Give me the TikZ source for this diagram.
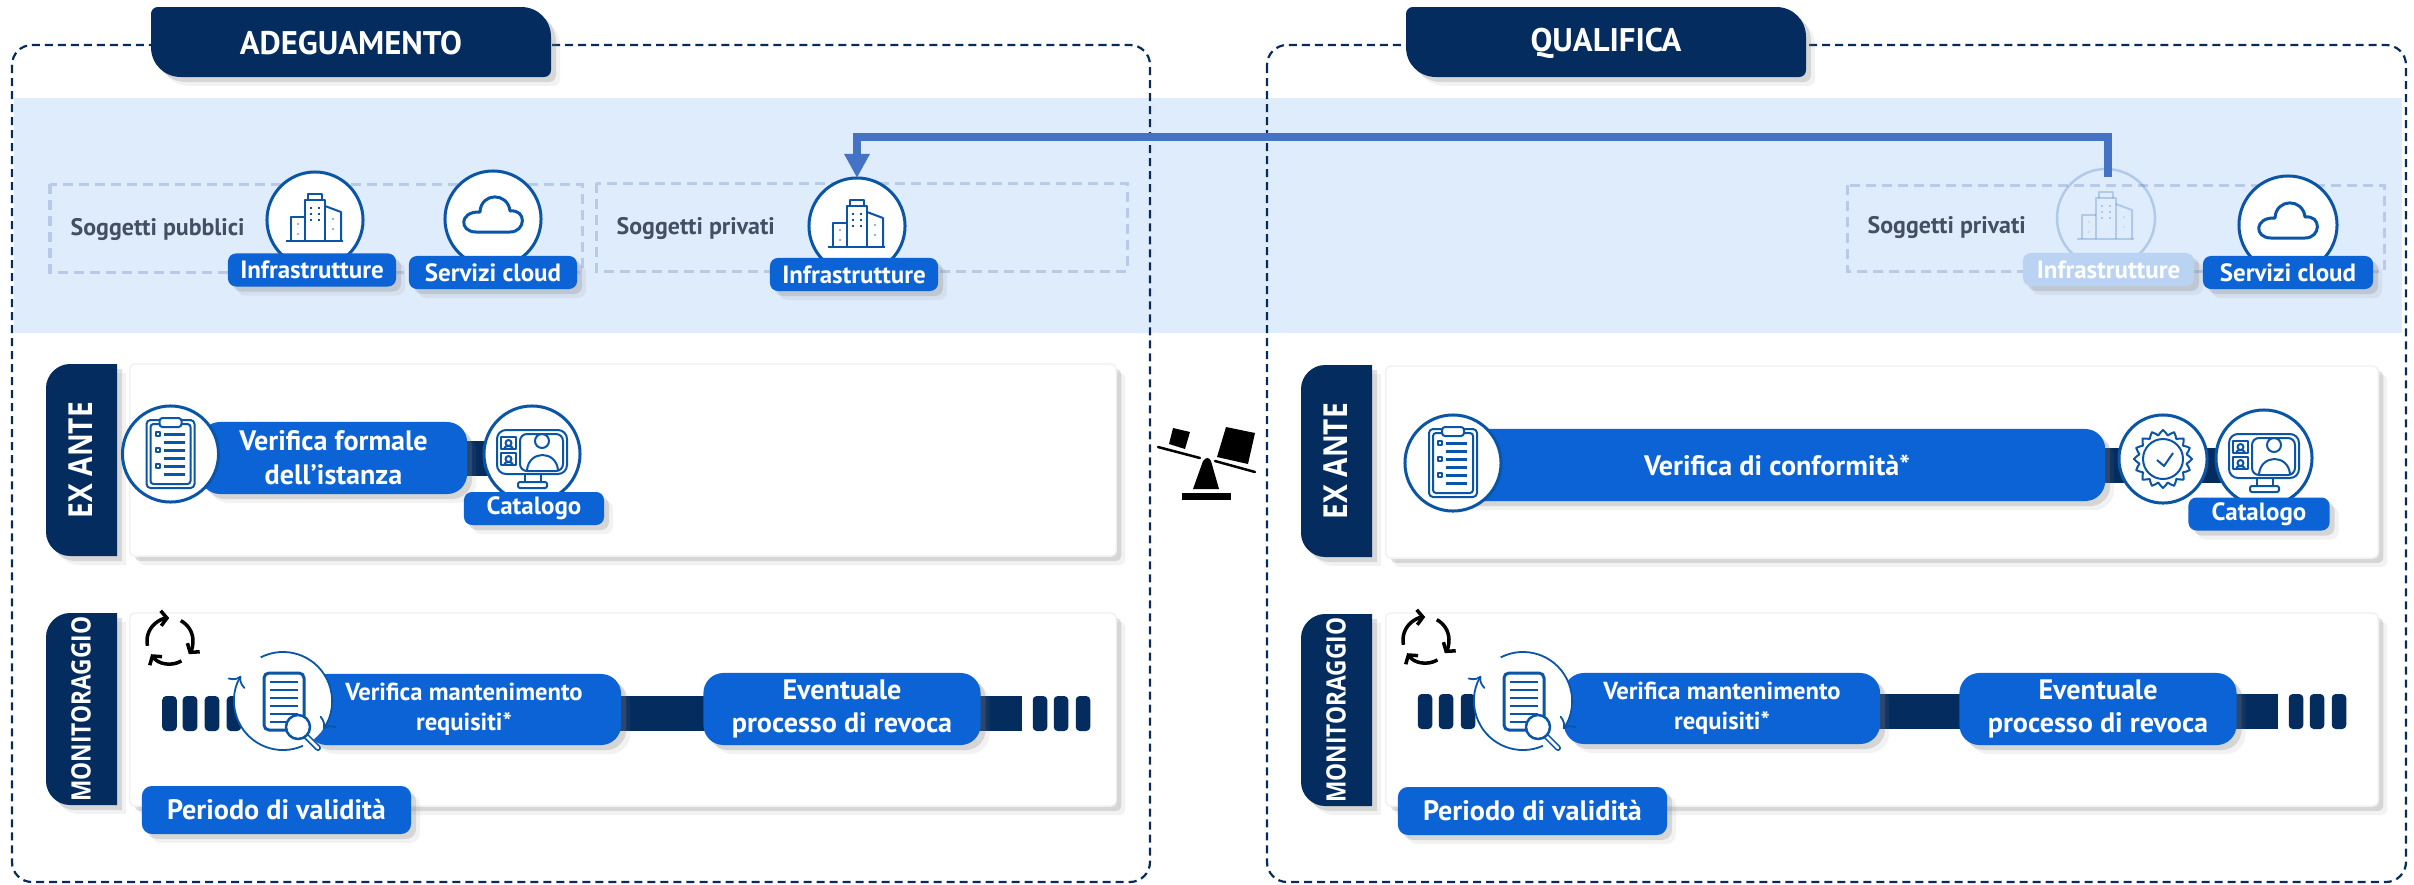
\documentclass[tikz,border=0pt]{standalone}
\usepackage{fontspec}
\setmainfont{PT Sans}
\newfontfamily\sidefont{Open Sans}[FakeStretch=.85]
\usetikzlibrary{arrows.meta,backgrounds,shadows}

\definecolor{navy}{HTML}{052C5F}
\definecolor{mainblue}{HTML}{0B63D5}
\definecolor{bandblue}{HTML}{DFECFC}
\definecolor{dashblue}{HTML}{B8CAE8}
\definecolor{iconblue}{HTML}{0A55A6}
\definecolor{linkblue}{HTML}{4472C4}
\definecolor{softgray}{HTML}{454F63}

\tikzset{
  softshadow/.style={drop shadow={shadow xshift=.9mm,shadow yshift=-.9mm,opacity=.1},
    drop shadow={shadow xshift=.5mm,shadow yshift=-.5mm,opacity=.25}},
  panel/.style={draw=navy,line width=.22mm,dash pattern=on .8mm off .5mm,rounded corners=2mm},
  groupbox/.style={draw=dashblue,line width=.3mm,dash pattern=on 1mm off .6mm},
  card/.style={draw=black!6,fill=white,rounded corners=.5mm,inner sep=0,outer sep=0,softshadow},
  tag/.style={fill=mainblue,text=white,rounded corners=.8mm,inner sep=0,outer sep=0,minimum height=.33cm,
    font=\fontsize{7.1}{8}\selectfont\bfseries,softshadow},
  pill/.style={fill=mainblue,text=white,rounded corners=2mm,inner sep=0,outer sep=0,align=center,
    font=\fontsize{8}{9.6}\selectfont\bfseries,softshadow},
  iconcircle/.style={circle,draw=iconblue,fill=white,line width=.3mm,inner sep=0,outer sep=0,minimum size=.96cm},
  iconline/.style={draw=iconblue,line width=.2mm,line join=round},
  navybar/.style={draw=navy,line width=.35cm},
  tick/.style={fill=navy,rounded corners=.4mm,inner sep=0,outer sep=0,minimum width=.145cm,minimum height=.35cm},
  grouplabel/.style={text=softgray,font=\fontsize{6.8}{8}\selectfont\bfseries,inner sep=0},
  sidelabel/.style={text=white,rotate=90,font=\sidefont\fontsize{9.4}{10}\selectfont\bfseries,inner sep=0},
  sidelabelsmall/.style={sidelabel,font=\sidefont\fontsize{7.6}{10}\selectfont\bfseries},
  titlelabel/.style={text=white,font=\fontsize{9.3}{10}\selectfont\bfseries,inner sep=0},
  linkarrow/.style={draw=linkblue,line width=.85mm,-{Triangle[width=2.4mm,length=2.4mm]}},
  % title tab, big corners top right and bottom left
  pics/titletab/.style={code={
    \fill[navy,softshadow] (7,0) -- (370,0) .. controls (387,0) and (400,13) .. (400,30) -- (400,63)
      .. controls (400,67) and (397,70) .. (393,70) -- (30,70) .. controls (13,70) and (0,57) .. (0,40)
      -- (0,7) .. controls (0,3) and (3,0) .. (7,0) -- cycle;}},
  % side tab, round on the left only
  pics/sidetab/.style={code={
    \fill[navy,softshadow] (71,0) -- (71,192) -- (24,192) .. controls (11,192) and (0,181) .. (0,168)
      -- (0,24) .. controls (0,11) and (11,0) .. (24,0) -- cycle;}},
  pics/building/.style={code={
    \draw[iconline] (-29,21) -- (28,21);
    \draw[iconline] (-10,21) -- (-10,-20) -- (10,-20) -- (10,21);
    \draw[iconline] (-7,-20) -- (-7,-26) -- (7,-26) -- (7,-20);
    \draw[iconline] (10,-14) -- (26,-8) -- (26,21);
    \draw[iconline] (-10,-3) -- (-24,-3) -- (-24,21);
    \foreach \y in {-13,-7,-1} {
      \fill[iconblue] (-5,\y) rectangle (-3,\y+2);
      \fill[iconblue] (3,\y) rectangle (5,\y+2);
    }
    \foreach \p in {(-17,4),(-17,14),(18,-1),(18,9)} \draw[iconline] \p circle (.02);
    }},
  pics/cloud/.style={code={
    \draw[iconline,line width=.3mm] (-17,13) -- (17,13) .. controls (33,13) and (34,-10) .. (17,-8)
      .. controls (15,-27) and (-12,-27) .. (-13,-7) .. controls (-34,-8) and (-34,13) .. (-17,13) -- cycle;
    }},
  pics/clipboard/.style={code={
    \draw[iconline,rounded corners=.4mm] (-24,-34) rectangle (24,34);
    \draw[iconline,rounded corners=.3mm] (-20,-30) rectangle (20,30);
    \draw[iconline,fill=white,rounded corners=.3mm] (-11,-36) rectangle (11,-27);
    \foreach \y in {-20,-12,-4,4,12,20} \draw[iconblue,line width=.3mm] (-7,\y) -- (14,\y);
    \foreach \y in {-20,-4,12} \draw[iconline,fill=white] (-15,\y-2) rectangle (-11,\y+2);
    }},
  pics/screen/.style={code={
    \draw[iconline,rounded corners=.9mm] (-35,-24) rectangle (35,20);
    \draw[iconline,rounded corners=.7mm] (-12,-20) rectangle (31,17);
    \draw[iconline] (-31,-17) rectangle (-16,-5);
    \draw[iconline] (-31,-1) rectangle (-16,11);
    \foreach \y in {-11,5} {
      \draw[iconline] (-23.5,\y) circle (3);
      \draw[iconline] (-28,\y+6) .. controls (-28,\y+2) and (-19,\y+2) .. (-19,\y+6);
    }
    \draw[iconline] (10,-13) circle (7);
    \draw[iconline] (-5,16) .. controls (-3,-4) and (24,-4) .. (26,16);
    \draw[iconline] (-7,20) -- (-7,28) (9,20) -- (9,28);
    \draw[iconline,rounded corners=.2mm] (-14,28) rectangle (15,34);
    }},
  pics/seal/.style={code={
    \draw[iconline] plot[domain=0:360,samples=65] ({(26.5+2.5*cos(16*\x))*cos(\x)},{(26.5+2.5*cos(16*\x))*sin(\x)}) -- cycle;
    \draw[iconline] (0,0) circle (20);
    \draw[iconline] (-6,1) -- (1,7) -- (10,-6);
    }},
  pics/checkdoc/.style={code={
    \draw[iconline,line width=.3mm,rounded corners=.5mm] (-19,-28) rectangle (21,29);
    \foreach \y in {-19,-11,-3,5,13,21} \draw[iconblue,line width=.22mm] (-13,\y) -- (15,\y);
    \draw[iconblue,line width=.6mm,line cap=round] (22,34) -- (35,47);
    \draw[white,line width=.25mm,line cap=round] (23,35) -- (35,47);
    \draw[iconline,line width=.25mm,fill=white] (15,26) circle (12);
    }},
  pics/cycle/.style={code={
    \foreach \a/\d in {192/-100,62/-97,-60/-85}
      \draw[black,line width=.35mm,-{Straight Barb[length=.6mm,width=1.5mm]}] ({23*cos(\a)},{-23*sin(\a)})
        arc[start angle=\a,delta angle=\d,radius=2.3mm];
    }},
}

\begin{document}
\begin{tikzpicture}[x=.01cm,y=-.01cm]
  \useasboundingbox (0,0) rectangle (2414,884);

  \begin{scope}[on background layer]
    % Light band across both panels
    \fill[bandblue] (14,98) rectangle (2402,333);

    % Dashed panels
    \draw[panel] (12,45) rectangle (1150,882);
    \draw[panel] (1267,45) rectangle (2406,882);

    % Dashed groups inside the band
    \draw[groupbox] (50,184) rectangle (582,272);
    \draw[groupbox] (596,183) rectangle (1127,271);
    \draw[groupbox] (1847,185) rectangle (2384,271);

    % White cards
    \node[card,minimum width=9.86cm,minimum height=1.92cm] (exanteA) at (623,460) {};
    \node[card,minimum width=9.86cm,minimum height=1.93cm] (monitorA) at (623,709.5) {};
    \node[card,minimum width=9.92cm,minimum height=1.92cm] (exanteB) at (1882,462) {};
    \node[card,minimum width=9.92cm,minimum height=1.93cm] (monitorB) at (1882,709.5) {};
  \end{scope}

  % Title tabs
  \pic at (151,7) {titletab};
  \node[titlelabel] (adeguamento) at (351,43) {ADEGUAMENTO};
  \pic at (1406,7) {titletab};
  \node[titlelabel] (qualifica) at (1606,43) {QUALIFICA};

  % Side tabs
  \pic at (46,364) {sidetab};
  \node[sidelabel] (sideexA) at (81,460) {EX ANTE};
  \pic at (46,613) {sidetab};
  \node[sidelabelsmall] (sidemonA) at (81,709) {MONITORAGGIO};
  \pic at (1301,365) {sidetab};
  \node[sidelabel] (sideexB) at (1336,461) {EX ANTE};
  \pic at (1301,614) {sidetab};
  \node[sidelabelsmall] (sidemonB) at (1336,710) {MONITORAGGIO};

  % Group labels
  \node[grouplabel,anchor=west] (pubblici) at (70,229) {Soggetti pubblici};
  \node[grouplabel,anchor=west] (privatiA) at (616,228) {Soggetti privati};
  \node[grouplabel,anchor=west] (privatiB) at (1867,227) {Soggetti privati};

  % Soggetti pubblici: infrastructure and cloud
  \node[iconcircle] (infraA) at (315,220) {};
  \pic at (315,220) {building};
  \node[tag,minimum width=1.68cm] (infratagA) at (312,270) {Infrastrutture};
  \node[iconcircle] (cloudA) at (493,219) {};
  \pic at (493,219) {cloud};
  \node[tag,minimum width=1.68cm] (cloudtagA) at (493,272.5) {Servizi cloud};

  % Soggetti privati on the left
  \node[iconcircle] (infraP) at (857,226) {};
  \pic at (857,226) {building};
  \node[tag,minimum width=1.68cm] (infratagP) at (854,274.5) {Infrastrutture};

  % Soggetti privati on the right: faded infrastructure and cloud
  \coordinate (linkstart) at (2108,177);
  \begin{scope}[opacity=.22]
    \node[circle,draw=iconblue,line width=.25mm,inner sep=0,minimum size=.98cm] (infraQ) at (2106,218) {};
    \pic at (2106,218) {building};
  \end{scope}
  \node[tag,minimum width=1.71cm,fill=mainblue!28,drop shadow={opacity=0}] (infratagQ) at (2108.5,269.5) {Infrastrutture};
  \node[iconcircle,minimum size=.98cm] (cloudB) at (2288,225) {};
  \pic at (2288,225) {cloud};
  \node[tag,minimum width=1.7cm] (cloudtagB) at (2288,272.5) {Servizi cloud};

  % Link between the two sides
  \draw[linkarrow] (linkstart) -- ++(0,-40) -| (infraP.north);

  % Balance in the middle
  \fill (1182,493) rectangle (1231,500);
  \fill (1193,489) -- (1203,461) .. controls (1206,457) and (1209,457) .. (1211,461) -- (1219,489) -- cycle;
  \draw[line width=.25mm,line cap=round] (1158,447) -- (1200,458);
  \draw[line width=.25mm,line cap=round] (1215,461) -- (1255,472);
  \fill (1173,428) -- (1190,432) -- (1185,449) -- (1169,444) -- cycle;
  \fill (1226,427) -- (1255,433) -- (1248,464) -- (1217,457) -- cycle;

  % Ex ante row, left
  \node[pill,minimum width=2.67cm,minimum height=.72cm] (formaleA) at (333.5,458) {Verifica formale\\dell’istanza};
  \node[iconcircle] (clipA) at (170.5,454) {};
  \pic at (170.5,454) {clipboard};
  \node[iconcircle] (catA) at (532,454) {};
  \pic at (532,454) {screen};
  \node[tag,minimum width=1.4cm] (cattagA) at (534,508.5) {Catalogo};

  % Ex ante row, right
  \node[pill,minimum width=6.56cm,minimum height=.72cm] (formaleB) at (1777,465) {Verifica di conformità*};
  \node[iconcircle] (clipB) at (1453,463) {};
  \pic at (1453,463) {clipboard};
  \node[iconcircle,minimum size=.88cm] (sealB) at (2163,459) {};
  \pic at (2163,459) {seal};
  \node[iconcircle] (catB) at (2264,458) {};
  \pic at (2264,458) {screen};
  \node[tag,minimum width=1.41cm] (cattagB) at (2259,514) {Catalogo};

  % Monitoraggio row, left
  \pic at (170,641) {cycle};
  \foreach \x [count=\n] in {169.5,190,212,234} \node[tick] (tickA\n) at (\x,713.5) {};
  \node[pill,minimum width=3.14cm,minimum height=.71cm,font=\fontsize{7}{8.6}\selectfont\bfseries] (mantA) at (464,709.5) {Verifica mantenimento\\requisiti*};
  \node[circle,fill=white,inner sep=0,outer sep=0,minimum size=.98cm] (docA) at (283,701) {};
  \pic at (283,701) {checkdoc};
  \draw[iconblue,line width=.18mm,->] (docA.117) arc[start angle=117,end angle=-35,radius=.49cm];
  \draw[iconblue,line width=.18mm,->] (docA.-66) arc[start angle=-66,end angle=-211,radius=.49cm];
  \node[pill,minimum width=2.77cm,minimum height=.72cm] (revocaA) at (842,709) {Eventuale\\processo di revoca};
  \coordinate (tailA) at (1022,713.5);
  \foreach \x [count=\n] in {1040,1061,1083} \node[tick] (endA\n) at (\x,713.5) {};
  \node[pill,rounded corners=1mm,minimum width=2.69cm,minimum height=.48cm] (periodoA) at (276.5,810) {Periodo di validità};

  % Monitoraggio row, right
  \pic at (1426,640) {cycle};
  \foreach \x [count=\n] in {1425,1446,1468} \node[tick] (tickB\n) at (\x,711.5) {};
  \node[pill,minimum width=3.16cm,minimum height=.71cm,font=\fontsize{7}{8.6}\selectfont\bfseries] (mantB) at (1722,708.5) {Verifica mantenimento\\requisiti*};
  \node[circle,fill=white,inner sep=0,outer sep=0,minimum size=.98cm] (docB) at (1523,701) {};
  \pic at (1523,701) {checkdoc};
  \draw[iconblue,line width=.18mm,->] (docB.117) arc[start angle=117,end angle=-35,radius=.49cm];
  \draw[iconblue,line width=.18mm,->] (docB.-66) arc[start angle=-66,end angle=-211,radius=.49cm];
  \node[pill,minimum width=2.77cm,minimum height=.72cm] (revocaB) at (2098,709) {Eventuale\\processo di revoca};
  \coordinate (tailB) at (2278,711.5);
  \foreach \x [count=\n] in {2296,2317,2339} \node[tick] (endB\n) at (\x,711.5) {};
  \node[pill,rounded corners=1mm,minimum width=2.69cm,minimum height=.48cm] (periodoB) at (1532.5,811) {Periodo di validità};

  % Dark bars behind the nodes
  \begin{scope}[on background layer]
    \draw[navybar] (formaleA.center) -- (formaleA.center -| catA.center);
    \draw[navybar] (formaleB.center) -- (formaleB.center -| catB.center);
    \draw[navybar] (mantA.center |- tickA1) -- (revocaA.center |- tickA1);
    \draw[navybar] (revocaA.center |- tickA1) -- (tailA);
    \draw[navybar] (mantB.center |- tickB1) -- (revocaB.center |- tickB1);
    \draw[navybar] (revocaB.center |- tickB1) -- (tailB);
  \end{scope}
\end{tikzpicture}
\end{document}
